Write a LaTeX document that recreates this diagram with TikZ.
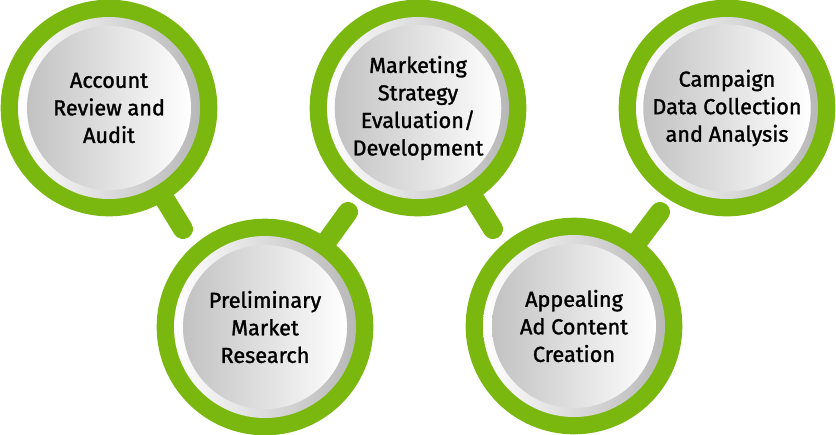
\documentclass[tikz,border=0pt]{standalone}
\usepackage{fontspec}
\setmainfont{Fira Sans}
\newfontfamily\lensfont[FakeBold=1.4]{Fira Sans}
\usepackage{xcolor}
\usepackage{tikz}
\usetikzlibrary{positioning,calc}

\definecolor{lensgreen}{RGB}{122,184,16}

\begin{document}
\begin{tikzpicture}[x=0.03cm, y=-0.03cm,
        lens/.style={circle, fill=lensgreen, minimum size=6.5cm, inner sep=0pt},
        rim/.style={circle, left color=white, right color=black!28, minimum size=5.46cm, inner sep=0pt},
        disk/.style={circle, left color=black!24, right color=white, minimum size=4.92cm, inner sep=0pt,
            align=center, font=\lensfont\fontsize{18.5}{23.5}\selectfont},
        handle/.style={draw=lensgreen, line width=0.6cm, line cap=round}]

    \useasboundingbox (0,0) rectangle (836,434);

    % centres of the lenses and the free ends of the handles
    \coordinate (acc) at (109,108);
    \coordinate (pre) at (265,327);
    \coordinate (mkt) at (418,108);
    \coordinate (app) at (574,326);
    \coordinate (cmp) at (727,108);

    \coordinate (h1) at (183,229);
    \coordinate (h2) at (348,212);
    \coordinate (h3) at (493,229);
    \coordinate (h4) at (660,212);

    % handles first, lenses on top
    \draw[handle] (acc) -- (h1);
    \draw[handle] (pre) -- (h2);
    \draw[handle] (mkt) -- (h3);
    \draw[handle] (app) -- (h4);

    \node[lens] (L1) at (acc) {};
    \node[rim] at (L1) {};
    \node[disk] (T1) at (L1) {Account\\Review and\\Audit};

    \node[lens] (L2) at (pre) {};
    \node[rim] at (L2) {};
    \node[disk] (T2) at (L2) {Preliminary\\Market\\Research};

    \node[lens] (L3) at (mkt) {};
    \node[rim] at (L3) {};
    \node[disk] (T3) at (L3) {Marketing\\Strategy\\Evaluation/\\Development};

    \node[lens] (L4) at (app) {};
    \node[rim] at (L4) {};
    \node[disk] (T4) at (L4) {Appealing\\Ad Content\\Creation};

    \node[lens] (L5) at (cmp) {};
    \node[rim] at (L5) {};
    \node[disk] (T5) at (L5) {Campaign\\Data Collection\\and Analysis};

\end{tikzpicture}
\end{document}
